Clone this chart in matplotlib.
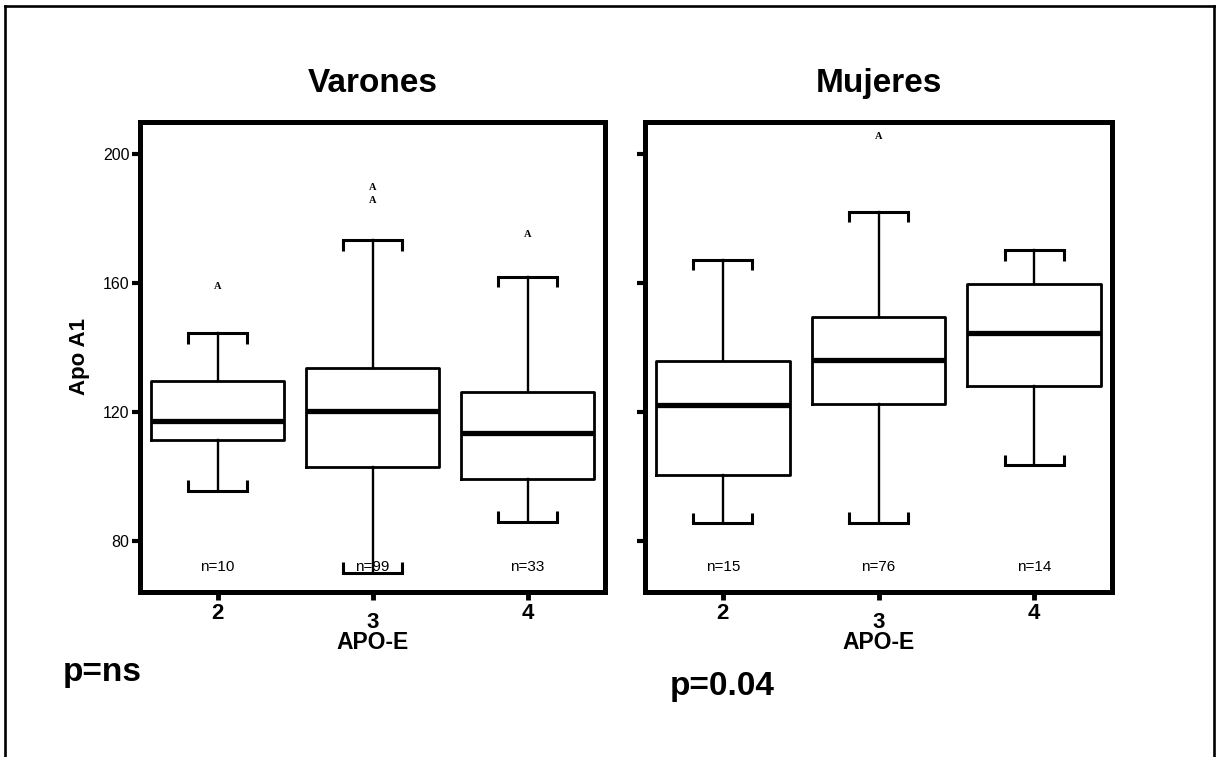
import matplotlib
matplotlib.use("Agg")
import matplotlib.pyplot as plt
from matplotlib.lines import Line2D
from matplotlib.transforms import ScaledTranslation

plt.rcParams['font.family'] = ['Liberation Sans', 'DejaVu Sans']

# APO-E genotype groups on the x axis
genotypes = ['2', '3', '4']

# Apo A1 summaries, men
men_whislo = [95.6, 70.2, 86.0]
men_q1 = [111.3, 103.0, 99.2]
men_med = [117.3, 120.5, 113.6]
men_q3 = [129.8, 133.7, 126.3]
men_whishi = [144.4, 173.3, 162.0]
men_outliers = [[159.0], [185.5, 189.8], [175.0]]
men_n = [10, 99, 33]

# Apo A1 summaries, women
women_whislo = [85.5, 85.7, 103.6]
women_q1 = [100.5, 122.5, 128.2]
women_med = [122.3, 136.2, 144.4]
women_q3 = [136.0, 149.4, 159.8]
women_whishi = [167.3, 182.1, 170.2]
women_outliers = [[], [205.6], []]
women_n = [15, 76, 14]

y_ticks = [80, 120, 160, 200]

W, H = 1217, 757
fig = plt.figure(figsize=(W / 100, H / 100), dpi=100)


def px_rect(x0, x1, y0, y1):
    return [x0 / W, 1 - y1 / H, (x1 - x0) / W, (y1 - y0) / H]


AX_TOP, AX_BOT = 122, 592
ax_men = fig.add_axes(px_rect(140, 605, AX_TOP, AX_BOT))
ax_women = fig.add_axes(px_rect(645, 1112, AX_TOP, AX_BOT))

CAP_W = 0.38
HOOK = 3.2


def draw_panel(ax, title, whislo, q1, med, q3, whishi, outliers, counts, show_ylabels):
    pos = list(range(1, len(genotypes) + 1))
    stats = []
    for g, lo, a, m, b, hi in zip(genotypes, whislo, q1, med, q3, whishi):
        stats.append(dict(label=g, whislo=lo, q1=a, med=m, q3=b, whishi=hi, fliers=[]))

    ax.bxp(stats, positions=pos, widths=0.86, capwidths=CAP_W, showfliers=False,
           boxprops=dict(color='black', linewidth=2.0),
           medianprops=dict(color='black', linewidth=3.8, solid_capstyle='butt'),
           whiskerprops=dict(color='black', linewidth=1.7),
           capprops=dict(color='black', linewidth=2.2))

    # bracket-style whisker caps
    for x, lo, hi in zip(pos, whislo, whishi):
        ends = [x - CAP_W / 2, x + CAP_W / 2]
        ax.vlines(ends, hi - HOOK, hi, color='black', lw=2.2)
        ax.vlines(ends, lo, lo + HOOK, color='black', lw=2.2)

    for x, vals in zip(pos, outliers):
        for v in vals:
            ax.text(x, v, 'A', ha='center', va='center', fontsize=7.5,
                    fontweight='bold', family=['Liberation Serif', 'DejaVu Serif'])

    for x, n in zip(pos, counts):
        ax.text(x, 72, f'n={n}', ha='center', va='center', fontsize=11)

    ax.set_xlim(0.5, 3.5)
    ax.set_ylim(64.2, 210)
    ax.set_yticks(y_ticks)
    ax.set_yticklabels([str(t) for t in y_ticks] if show_ylabels else [])
    ax.set_xticks(pos)
    ax.set_xticklabels(genotypes)

    for side in ['left', 'right', 'top', 'bottom']:
        ax.spines[side].set_linewidth(3.6)
    ax.tick_params(axis='y', direction='out', length=5.5, width=3, pad=2,
                   labelsize=11.5, left=True, right=False)
    ax.tick_params(axis='x', direction='out', length=6, width=3.5, pad=2,
                   labelsize=16, top=False)
    for lbl in ax.get_xticklabels():
        lbl.set_fontweight('bold')
    mid = ax.get_xticklabels()[1]
    mid.set_transform(mid.get_transform() + ScaledTranslation(0, -9 / 100, fig.dpi_scale_trans))

    ax.text(0.5, 1 + 30 / (AX_BOT - AX_TOP), title, transform=ax.transAxes,
            ha='center', va='baseline', fontsize=24, fontweight='bold')
    ax.text(0.5, -(631 - AX_BOT) / (AX_BOT - AX_TOP), 'APO-E', transform=ax.transAxes,
            ha='center', va='top', fontsize=16.5, fontweight='bold')


draw_panel(ax_men, 'Varones', men_whislo, men_q1, men_med, men_q3, men_whishi,
           men_outliers, men_n, True)
draw_panel(ax_women, 'Mujeres', women_whislo, women_q1, women_med, women_q3, women_whishi,
           women_outliers, women_n, False)

fig.text(79 / W, 1 - 357 / H, 'Apo A1', rotation=90, ha='center', va='center',
         fontsize=16, fontweight='bold')

fig.text(63 / W, 1 - 681 / H, 'p=ns', ha='left', va='baseline', fontsize=24, fontweight='bold')
fig.text(670 / W, 1 - 695 / H, 'p=0.04', ha='left', va='baseline', fontsize=24, fontweight='bold')

# outer frame, open at the bottom
frame = dict(color='black', lw=1.9, transform=fig.transFigure)
fig.add_artist(Line2D([5 / W, 5 / W], [0, 1 - 6 / H], **frame))
fig.add_artist(Line2D([5 / W, 1214 / W], [1 - 6 / H, 1 - 6 / H], **frame))
fig.add_artist(Line2D([1214 / W, 1214 / W], [1 - 6 / H, 0], **frame))

fig.savefig('out.png', dpi=100)
